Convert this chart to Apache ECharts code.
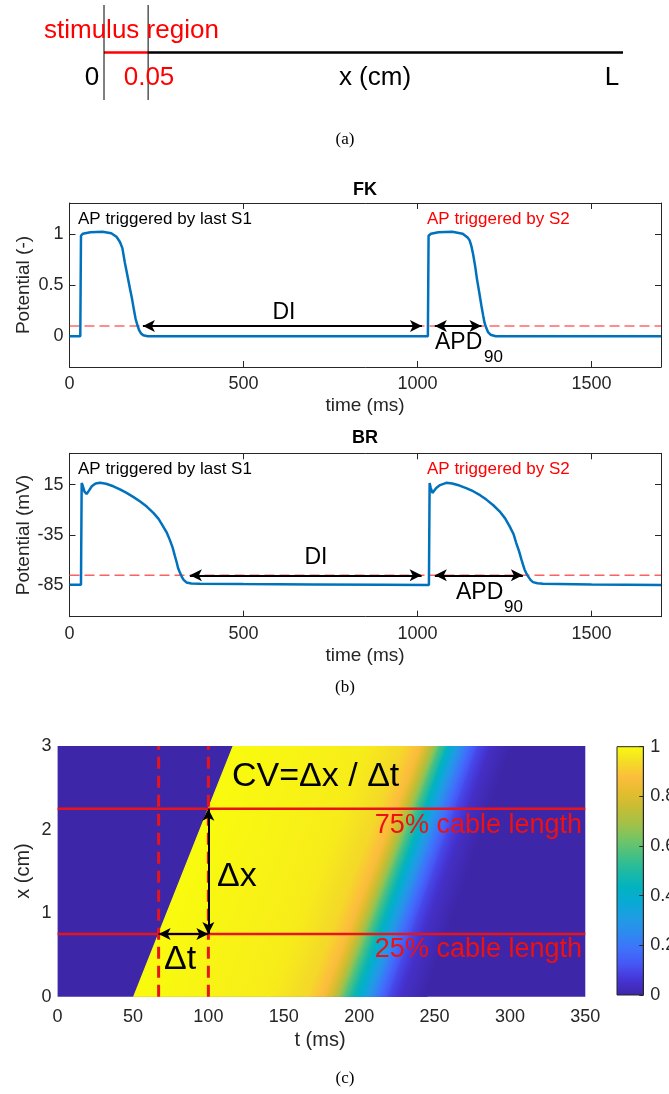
<!DOCTYPE html>
<html><head><meta charset="utf-8">
<script src="https://cdn.jsdelivr.net/npm/echarts@6/dist/echarts.min.js"></script>
<style>html,body{margin:0;padding:0;background:#fff}#c{width:669px;height:1094px}</style>
</head><body><div id="c"></div>
<script>
// ---------------- data ----------------
// (a) cable schematic: drawn positions (not to scale) of the marks 0, 0.05 and L
const cableMarkLabels = ['0', '0.05', 'L'];
const cableMarkPos = [0, 0.085, 1];

// (b) FK trace
const fkTime = [0, 31, 33, 38, 60, 95, 120, 135, 145, 152, 159, 166, 174, 180, 185, 190, 195, 200, 205, 212, 225,
  1030, 1032, 1039, 1060, 1100, 1130, 1145, 1150, 1155, 1160, 1166, 1171, 1178, 1184, 1189, 1193, 1198, 1203, 1210, 1225, 1700];
const fkPotential = [0, 0, 0.98, 1.0, 1.015, 1.02, 1.005, 0.97, 0.92, 0.86, 0.72, 0.6, 0.46, 0.36, 0.26, 0.17, 0.11, 0.06, 0.03, 0.01, 0,
  0, 0.98, 1.0, 1.015, 1.02, 1.0, 0.96, 0.935, 0.88, 0.80, 0.68, 0.56, 0.42, 0.295, 0.2, 0.13, 0.08, 0.04, 0.015, 0, 0];
const fkThreshold = 0.1;
const fkDI = [211, 1013];
const fkAPD = [1050, 1184];
const fkTicks = [0, 0.5, 1];

// (b) BR trace
const brTime = [0, 33, 35, 38, 43, 49, 56, 64, 75, 88, 105, 126, 145, 164, 183, 202, 222, 241, 256, 269, 280, 288, 296, 303, 308, 312, 317, 322, 328, 336, 350, 375, 500, 700, 900,
  1033, 1035, 1038, 1043, 1048, 1054, 1065, 1083, 1100, 1121, 1140, 1160, 1180, 1198, 1218, 1236, 1252, 1265, 1276, 1284, 1292, 1299, 1304, 1308, 1313, 1318, 1325, 1332, 1345, 1361, 1500, 1700];
const brPotential = [-84.3, -84.3, 16.5, 14, 8, 5.7, 9, 13.3, 16, 16.8, 15.8, 13.3, 10.3, 6.7, 2.8, -1.6, -6.8, -13, -19, -26.4, -33, -39.6, -47, -56, -62, -67.7, -72, -76, -79.5, -82, -83, -83.3, -83.7, -84.1, -84.4,
  -84.6, 16.5, 12, 6.7, 8.5, 11.7, 14.5, 16.7, 16, 14, 11.5, 8.4, 4.5, 0.1, -5.5, -11.5, -18.5, -26.4, -34, -43, -51, -59.5, -65, -69.4, -73, -76, -79.5, -81.7, -82.8, -83.3, -84, -84.6];
const brThreshold = -75;
const brDI = [346, 1012];
const brAPD = [1050, 1303];
const brTicks = [-85, -35, 15];
const timeTicks = [0, 500, 1000, 1500];

// (c) space-time plot: potential level and the time (ms) at which it is reached at x=0 and x=3 cm
const heatValue    = [1.00, 0.97, 0.93, 0.87, 0.80, 0.70, 0.58, 0.45, 0.32, 0.20, 0.10, 0.04, 0.00];
const heatTimeAtX0 = [50.5, 140, 165, 176, 181, 186, 191, 198, 205, 212, 220, 230, 245];
const heatTimeAtX3 = [116.5, 205, 229, 240, 244, 249, 253, 258, 264, 271, 279, 287, 300];
const cableLength = 3;
const cvPositions = [0.75, 2.25];   // 25% and 75% of cable length
const cvTimes = [67, 100];          // activation times at those positions
const colorbarTicks = [0, 0.2, 0.4, 0.6, 0.8, 1];

// ---------------- styling ----------------
const FONT = '"Liberation Sans", Arial, Helvetica, sans-serif';
const SERIF = '"Liberation Serif", "DejaVu Serif", serif';
const AX = '#262626';
const BLUE = '#0072BD';
const parula = ['#3E26A8', '#4634D4', '#4656F5', '#3F72FB', '#2D8BEF', '#1E9DE3', '#08AAD4', '#03B3BF', '#1FBAA2',
  '#46C084', '#73C466', '#A2C148', '#C4BD36', '#E3BD2D', '#FCBD3D', '#F4DC26', '#F9FB0E'];

function hexToRgb(h) { return [parseInt(h.slice(1, 3), 16), parseInt(h.slice(3, 5), 16), parseInt(h.slice(5, 7), 16)]; }
function parulaColor(v) {
  v = Math.max(0, Math.min(1, v));
  const n = parula.length - 1, p = v * n, i = Math.min(n - 1, Math.floor(p)), f = p - i;
  const a = hexToRgb(parula[i]), b = hexToRgb(parula[i + 1]);
  return 'rgb(' + a.map((c, k) => Math.round(c + (b[k] - c) * f)).join(',') + ')';
}
function gradientStops(v0, v1) {
  const stops = [{ offset: 0, color: parulaColor(v0) }];
  const n = parula.length - 1;
  for (let k = 0; k <= n; k++) {
    const s = k / n;
    if ((s - v0) * (s - v1) < 0) stops.push({ offset: (v0 - s) / (v0 - v1), color: parula[k] });
  }
  stops.push({ offset: 1, color: parulaColor(v1) });
  stops.sort((a, b) => a.offset - b.offset);
  return stops;
}

function zip(a, b) { return a.map((x, i) => [x, b[i]]); }
const plainNum = v => String(+v.toFixed(4));

function boxAxis(kind, grid, position, min, max, ticks, labels, extra) {
  const ax = {
    type: 'value', gridIndex: grid, position: position, min: min, max: max,
    axisLine: { show: true, onZero: false, lineStyle: { color: AX, width: 1 } },
    axisTick: { show: true, inside: true, length: 6, customValues: ticks, lineStyle: { color: AX, width: 1 } },
    axisLabel: { show: labels, customValues: ticks, formatter: plainNum, color: AX, fontSize: 18, fontFamily: FONT, margin: kind === 'x' ? 8 : 6 },
    splitLine: { show: false }
  };
  return Object.assign(ax, extra || {});
}

const bandData = [];
for (let i = 0; i < heatValue.length - 1; i++) {
  bandData.push([heatTimeAtX0[i], heatTimeAtX0[i + 1], heatTimeAtX3[i], heatTimeAtX3[i + 1], heatValue[i], heatValue[i + 1]]);
}

function renderBand(params, api) {
  const p00 = api.coord([api.value(0), 0]);
  const p10 = api.coord([api.value(1), 0]);
  const p01 = api.coord([api.value(2), cableLength]);
  const p11 = api.coord([api.value(3), cableLength]);
  const dx = p01[0] - p00[0], dy = p01[1] - p00[1], len = Math.hypot(dx, dy);
  let nx = -dy / len, ny = dx / len;
  if (nx < 0) { nx = -nx; ny = -ny; }
  const ml = [(p00[0] + p01[0]) / 2, (p00[1] + p01[1]) / 2];
  const mr = [(p10[0] + p11[0]) / 2, (p10[1] + p11[1]) / 2];
  const d = (mr[0] - ml[0]) * nx + (mr[1] - ml[1]) * ny;
  const g = new echarts.graphic.LinearGradient(ml[0], ml[1], ml[0] + nx * d, ml[1] + ny * d,
    gradientStops(api.value(4), api.value(5)), true);
  return { type: 'polygon', shape: { points: [p00, p10, p11, p01] }, style: { fill: g, stroke: g, lineWidth: 1.2 } };
}

const arrowLine = { color: '#000', width: 2, type: 'solid' };
function arrowMark(pairs) {
  return {
    silent: true, symbol: ['arrow', 'arrow'], symbolSize: [9, 12], animation: false,
    label: { show: false }, lineStyle: arrowLine, emphasis: { disabled: true },
    data: pairs.map(p => [{ coord: p[0] }, { coord: p[1] }])
  };
}

function txt(text, x, y, o) {
  o = o || {};
  return {
    type: 'text', x: x, y: y, z: 100, rotation: o.rot || 0,
    style: {
      text: text, align: o.align || 'center', verticalAlign: 'middle',
      fill: o.color || '#000', font: (o.bold ? 'bold ' : '') + (o.size || 17) + 'px ' + (o.font || FONT)
    }
  };
}

const NB = { outerBoundsMode: 'none', containLabel: false };

const option = {
  animation: false,
  grid: [
    Object.assign({ left: 69.5, top: 203, width: 591.5, height: 164 }, NB),
    Object.assign({ left: 69.5, top: 453.3, width: 591.5, height: 163.4 }, NB),
    Object.assign({ left: 57.6, top: 746, width: 527.7, height: 250.7, show: true, backgroundColor: parula[0], borderWidth: 0 }, NB),
    Object.assign({ left: 617, top: 746.7, width: 26.3, height: 248.3 }, NB),
    Object.assign({ left: 104, top: 5, width: 519, height: 95 }, NB)
  ],
  xAxis: [
    boxAxis('x', 0, 'bottom', 0, 1700, timeTicks, true),
    boxAxis('x', 0, 'top', 0, 1700, timeTicks, false),
    boxAxis('x', 1, 'bottom', 0, 1700, timeTicks, true),
    boxAxis('x', 1, 'top', 0, 1700, timeTicks, false),
    { type: 'value', gridIndex: 2, min: 0, max: 350, interval: 50,
      axisLine: { show: false, onZero: false }, axisTick: { show: false }, splitLine: { show: false },
      axisLabel: { color: AX, fontSize: 18, fontFamily: FONT, margin: 11, formatter: plainNum } },
    { type: 'value', gridIndex: 3, min: 0, max: 1, show: false },
    { type: 'value', gridIndex: 4, min: 0, max: 1, show: false }
  ],
  yAxis: [
    boxAxis('y', 0, 'left', -0.3, 1.3, fkTicks, true),
    boxAxis('y', 0, 'right', -0.3, 1.3, fkTicks, false),
    boxAxis('y', 1, 'left', -116, 46, brTicks, true),
    boxAxis('y', 1, 'right', -116, 46, brTicks, false),
    { type: 'value', gridIndex: 2, min: 0, max: cableLength, interval: 1,
      axisLine: { show: false, onZero: false }, axisTick: { show: false }, splitLine: { show: false },
      axisLabel: { color: AX, fontSize: 18, fontFamily: FONT, margin: 6, formatter: plainNum } },
    { type: 'value', gridIndex: 3, position: 'right', min: 0, max: 1, z: 3,
      axisLine: { show: true, onZero: false, lineStyle: { color: AX, width: 1 } },
      axisTick: { show: true, inside: true, length: 4, customValues: colorbarTicks, lineStyle: { color: AX } },
      axisLabel: { color: AX, fontSize: 18, fontFamily: FONT, margin: 7, customValues: colorbarTicks, formatter: plainNum },
      splitLine: { show: false } },
    { type: 'value', gridIndex: 4, min: 0, max: 1, show: false }
  ],
  series: [
    // ----- (a) cable -----
    { type: 'line', xAxisIndex: 6, yAxisIndex: 6, clip: false, symbol: 'none', silent: true,
      data: [[cableMarkPos[1], 0.5], [cableMarkPos[2], 0.5]], lineStyle: { color: '#000', width: 2.5 } },
    { type: 'line', xAxisIndex: 6, yAxisIndex: 6, clip: false, symbol: 'none', silent: true,
      data: [[cableMarkPos[0], 0.5], [cableMarkPos[1], 0.5]], lineStyle: { color: '#ff0000', width: 2.5 } },
    { type: 'line', xAxisIndex: 6, yAxisIndex: 6, clip: false, symbol: 'none', silent: true,
      data: [[cableMarkPos[0], 0], [cableMarkPos[0], 1]], lineStyle: { color: '#000', width: 1 } },
    { type: 'line', xAxisIndex: 6, yAxisIndex: 6, clip: false, symbol: 'none', silent: true,
      data: [[cableMarkPos[1], 0], [cableMarkPos[1], 1]], lineStyle: { color: '#000', width: 1 } },
    // ----- (b) FK -----
    { type: 'line', xAxisIndex: 0, yAxisIndex: 0, symbol: 'none', silent: true, z: 2,
      data: [[0, fkThreshold], [1700, fkThreshold]], lineStyle: { color: '#ff1a1a', width: 1, type: [10, 5] },
      markLine: arrowMark([[[fkDI[0], fkThreshold], [fkDI[1], fkThreshold]], [[fkAPD[0], fkThreshold], [fkAPD[1], fkThreshold]]]) },
    { type: 'line', xAxisIndex: 0, yAxisIndex: 0, symbol: 'none', silent: true, z: 3,
      data: zip(fkTime, fkPotential), lineStyle: { color: BLUE, width: 2.5 } },
    // ----- (b) BR -----
    { type: 'line', xAxisIndex: 2, yAxisIndex: 2, symbol: 'none', silent: true, z: 2,
      data: [[0, brThreshold], [1700, brThreshold]], lineStyle: { color: '#ff6060', width: 1.5, type: [10, 5] },
      markLine: arrowMark([[[brDI[0], brThreshold], [brDI[1], brThreshold]], [[brAPD[0], brThreshold], [brAPD[1], brThreshold]]]) },
    { type: 'line', xAxisIndex: 2, yAxisIndex: 2, symbol: 'none', silent: true, z: 3,
      data: zip(brTime, brPotential), lineStyle: { color: BLUE, width: 2.5 } },
    // ----- (c) space-time plot -----
    { type: 'custom', xAxisIndex: 4, yAxisIndex: 4, silent: true, z: 1, clip: true,
      renderItem: renderBand, data: bandData },
    { type: 'line', xAxisIndex: 4, yAxisIndex: 4, symbol: 'none', silent: true, z: 3,
      data: [[0, cvPositions[0]], [350, cvPositions[0]]], lineStyle: { color: '#e8141c', width: 2.5 } },
    { type: 'line', xAxisIndex: 4, yAxisIndex: 4, symbol: 'none', silent: true, z: 3,
      data: [[0, cvPositions[1]], [350, cvPositions[1]]], lineStyle: { color: '#e8141c', width: 2.5 } },
    { type: 'line', xAxisIndex: 4, yAxisIndex: 4, symbol: 'none', silent: true, z: 3,
      data: [[cvTimes[0], 0], [cvTimes[0], cableLength]], lineStyle: { color: '#e8141c', width: 3, type: [12, 7] } },
    { type: 'line', xAxisIndex: 4, yAxisIndex: 4, symbol: 'none', silent: true, z: 3,
      data: [[cvTimes[1], 0], [cvTimes[1], cableLength]], lineStyle: { color: '#e8141c', width: 3, type: [12, 7] },
      markLine: arrowMark([[[cvTimes[0], cvPositions[0]], [cvTimes[1], cvPositions[0]]], [[cvTimes[1], cvPositions[0]], [cvTimes[1], cvPositions[1]]]]) }
  ],
  graphic: { elements: [
    // (a)
    txt('stimulus region', 44, 30.5, { align: 'left', color: '#ff0000', size: 26 }),
    txt(cableMarkLabels[0], 92, 78, { size: 26 }),
    txt(cableMarkLabels[1], 149, 78, { size: 26, color: '#ff0000' }),
    txt('x (cm)', 375, 78, { size: 26 }),
    txt(cableMarkLabels[2], 612, 78, { size: 26 }),
    txt('(a)', 345, 140, { size: 17, font: SERIF }),
    // (b) FK
    txt('FK', 365, 190, { bold: true, size: 18 }),
    txt('AP triggered by last S1', 78, 219, { align: 'left', size: 17 }),
    txt('AP triggered by S2', 427, 219, { align: 'left', size: 17, color: '#ff0000' }),
    txt('DI', 284, 312.5, { size: 23 }),
    txt('APD', 435, 342.5, { align: 'left', size: 23 }),
    txt('90', 484, 357.5, { align: 'left', size: 17 }),
    txt('time (ms)', 365, 406, { size: 19, color: AX }),
    txt('Potential (-)', 23.5, 285, { size: 19, color: AX, rot: Math.PI / 2 }),
    // (b) BR
    txt('BR', 365, 438.5, { bold: true, size: 18 }),
    txt('AP triggered by last S1', 78, 469, { align: 'left', size: 17 }),
    txt('AP triggered by S2', 427, 469, { align: 'left', size: 17, color: '#ff0000' }),
    txt('DI', 316, 558, { size: 23 }),
    txt('APD', 456, 592.5, { align: 'left', size: 23 }),
    txt('90', 504, 607.5, { align: 'left', size: 17 }),
    txt('time (ms)', 365, 656, { size: 19, color: AX }),
    txt('Potential (mV)', 23.5, 535, { size: 19, color: AX, rot: Math.PI / 2 }),
    txt('(b)', 345, 688, { size: 17, font: SERIF }),
    // (c)
    txt('CV=Δx / Δt', 232, 777, { align: 'left', size: 34 }),
    txt('Δx', 217, 877, { align: 'left', size: 34 }),
    txt('Δt', 164, 960, { align: 'left', size: 34 }),
    txt('75% cable length', 582, 825.5, { align: 'right', size: 27, color: '#ee1111' }),
    txt('25% cable length', 582, 950, { align: 'right', size: 27, color: '#ee1111' }),
    txt('t (ms)', 320, 1040, { size: 20, color: AX }),
    txt('x (cm)', 23, 871, { size: 20, color: AX, rot: Math.PI / 2 }),
    txt('(c)', 345, 1079, { size: 17, font: SERIF }),
    // colorbar
    { type: 'rect', x: 617, y: 746.7, z: 1, shape: { width: 26.3, height: 248.3 },
      style: { fill: new echarts.graphic.LinearGradient(0, 1, 0, 0, parula.map((c, i) => ({ offset: i / (parula.length - 1), color: c }))),
               stroke: AX, lineWidth: 1 } }
  ] }
};

const chart = echarts.init(document.getElementById('c'), null, { renderer: 'canvas', width: 669, height: 1094 });
chart.setOption(option);
</script>
</body></html>
